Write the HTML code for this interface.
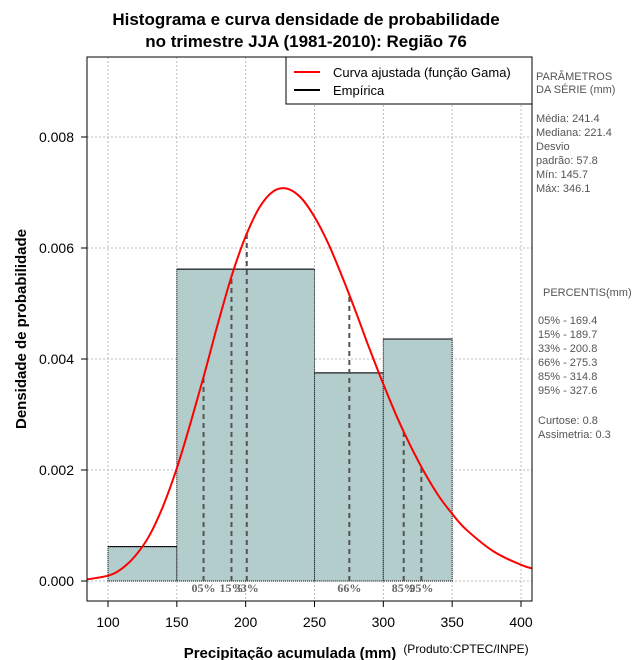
<!DOCTYPE html>
<html><head><meta charset="utf-8"><style>
body{margin:0;background:#fff;}
svg{display:block;font-family:"Liberation Sans",sans-serif;}
.pre{white-space:pre;}
</style></head><body>
<svg id="c" width="640" height="660" viewBox="0 0 640 660">
<text x="306" y="25" text-anchor="middle" font-size="17" font-weight="bold">Histograma e curva densidade de probabilidade</text>
<text x="306" y="47" text-anchor="middle" font-size="17" font-weight="bold">no trimestre JJA (1981-2010): Região 76</text>
<g id="grid"></g>
<g id="bars"></g>
<g id="pct"></g>
<path id="curve" fill="none" stroke="#ff0000" stroke-width="2"/>
<rect x="87" y="57" width="445" height="544" fill="none" stroke="#000"/>
<g id="axes"></g>
<text x="290" y="658" text-anchor="middle" font-size="15" font-weight="bold">Precipitação acumulada (mm)</text>
<text x="466" y="653" text-anchor="middle" font-size="12">(Produto:CPTEC/INPE)</text>
<text transform="translate(26,329) rotate(-90)" text-anchor="middle" font-size="15" font-weight="bold">Densidade de probabilidade</text>
<g>
<rect x="286" y="57" width="246" height="47" fill="#fff" stroke="#000"/>
<line x1="294" y1="72" x2="320" y2="72" stroke="#ff0000" stroke-width="2"/>
<text x="333" y="77" font-size="13">Curva ajustada (função Gama)</text>
<line x1="294" y1="90" x2="320" y2="90" stroke="#000" stroke-width="2"/>
<text x="333" y="95" font-size="13">Empírica</text>
</g>
<g font-size="11" fill="#555" class="pre">
<text x="536" y="80">PARÂMETROS</text>
<text x="536" y="93"> DA SÉRIE (mm)</text>
<text x="536" y="122">Média:  241.4</text>
<text x="536" y="136">Mediana:  221.4</text>
<text x="536" y="150">Desvio</text>
<text x="536" y="164">padrão:  57.8</text>
<text x="536" y="178">Mín:  145.7</text>
<text x="536" y="192">Máx:  346.1</text>
<text x="543" y="296">PERCENTIS(mm)</text>
<text x="538" y="324">05% -   169.4</text>
<text x="538" y="338">15% -   189.7</text>
<text x="538" y="352">33% -   200.8</text>
<text x="538" y="366">66% -   275.3</text>
<text x="538" y="380">85% -   314.8</text>
<text x="538" y="394">95% -   327.6</text>
<text x="538" y="424">Curtose:  0.8</text>
<text x="538" y="438">Assimetria:  0.3</text>
</g>
</svg>
<script>
const binEdges=[100,150,250,300,350];
const binDensity=[0.00062,0.00562,0.00375,0.00436];
const curveX=[80,100,110,120,130,140,150,160,170,180,190,200,210,220,230,240,250,260,270,280,290,300,310,320,330,340,350,360,380,400,410];
const curveY=[0.00001,0.000096,0.000222,0.000457,0.000816,0.00135,0.00203,0.00285,0.00373,0.00465,0.00551,0.00621,0.00673,0.00702,0.00707,0.00691,0.00656,0.00608,0.00549,0.00485,0.00418,0.00355,0.00295,0.00242,0.00195,0.00154,0.00121,0.000932,0.000533,0.000291,0.000214];
const pctLabels=["05%","15%","33%","66%","85%","95%"];
const pctValues=[169.4,189.7,200.8,275.3,314.8,327.6];
const xTicks=[100,150,200,250,300,350,400];
const yTicks=[0,0.002,0.004,0.006,0.008];
const yTickLabels=["0.000","0.002","0.004","0.006","0.008"];
const NS="http://www.w3.org/2000/svg";
const X=v=>108+(v-100)*413/300;
const Y=v=>581-v*55500;
function mk(p,t,a){const e=document.createElementNS(NS,t);for(const k in a)e.setAttribute(k,a[k]);document.getElementById(p).appendChild(e);return e;}
xTicks.forEach(t=>{
 const g=mk('grid','line',{x1:X(t),x2:X(t),y1:57,y2:601,stroke:'#bbb','stroke-dasharray':'2,2'});
 
 
 mk('axes','line',{x1:X(t),x2:X(t),y1:601,y2:607,stroke:'#000'});
 const l=mk('axes','text',{x:X(t),y:627,'text-anchor':'middle','font-size':14});
 l.textContent=t;
 
 
});
yTicks.forEach((t,i)=>{
 const g=mk('grid','line',{x1:87,x2:532,y1:Y(t),y2:Y(t),stroke:'#bbb','stroke-dasharray':'2,2'});
 
 
 mk('axes','line',{x1:81,x2:87,y1:Y(t),y2:Y(t),stroke:'#000'});
 const l=mk('axes','text',{x:74,y:Y(t)+5,'text-anchor':'end','font-size':14});
 l.textContent=yTickLabels[i];
 
 
});
binDensity.forEach((d,i)=>{
 const x0=X(binEdges[i]),x1=X(binEdges[i+1]);
 const r=mk('bars','rect',{x:x0,y:Y(d),width:x1-x0,height:Y(0)-Y(d),fill:'#b3cccc',stroke:'#000','stroke-width':1,'stroke-dasharray':'1,1'});
 
 
 mk('bars','line',{x1:x0,x2:x1,y1:Y(d),y2:Y(d),stroke:'#000'});
});
function interp(v){for(let i=0;i<curveX.length-1;i++){if(v>=curveX[i]&&v<=curveX[i+1]){const f=(v-curveX[i])/(curveX[i+1]-curveX[i]);return curveY[i]+f*(curveY[i+1]-curveY[i]);}}return 0;}
pctValues.forEach((p,i)=>{
 const l=mk('pct','line',{x1:X(p),x2:X(p),y1:Y(0),y2:Y(interp(p)),stroke:'#555','stroke-width':2,'stroke-dasharray':'5,4'});
 
 
 const t=mk('pct','text',{x:X(p),y:592,'text-anchor':'middle','font-size':12,'font-weight':'bold',fill:'#666','font-family':'Liberation Serif,serif'});
 t.textContent=pctLabels[i];
 
 
});
// smooth Catmull-Rom path through data points, clipped to plot
const P=curveX.map((x,i)=>[X(x),Y(curveY[i])]);
let d='M'+P[0][0].toFixed(1)+','+P[0][1].toFixed(1);
for(let i=0;i<P.length-1;i++){
 const p0=P[i-1]||P[i],p1=P[i],p2=P[i+1],p3=P[i+2]||P[i+1];
 const c1=[p1[0]+(p2[0]-p0[0])/6,p1[1]+(p2[1]-p0[1])/6];
 const c2=[p2[0]-(p3[0]-p1[0])/6,p2[1]-(p3[1]-p1[1])/6];
 d+='C'+c1.map(v=>v.toFixed(1)).join(',')+' '+c2.map(v=>v.toFixed(1)).join(',')+' '+p2.map(v=>v.toFixed(1)).join(',');
}
const cp=mk('grid','clipPath',{id:'clip'});
const cr=document.createElementNS(NS,'rect');
cr.setAttribute('x',87);cr.setAttribute('y',57);cr.setAttribute('width',445);cr.setAttribute('height',544);
cp.appendChild(cr);
const cv=document.getElementById('curve');
cv.setAttribute('d',d);
cv.setAttribute('clip-path','url(#clip)');
</script>
</body></html>
